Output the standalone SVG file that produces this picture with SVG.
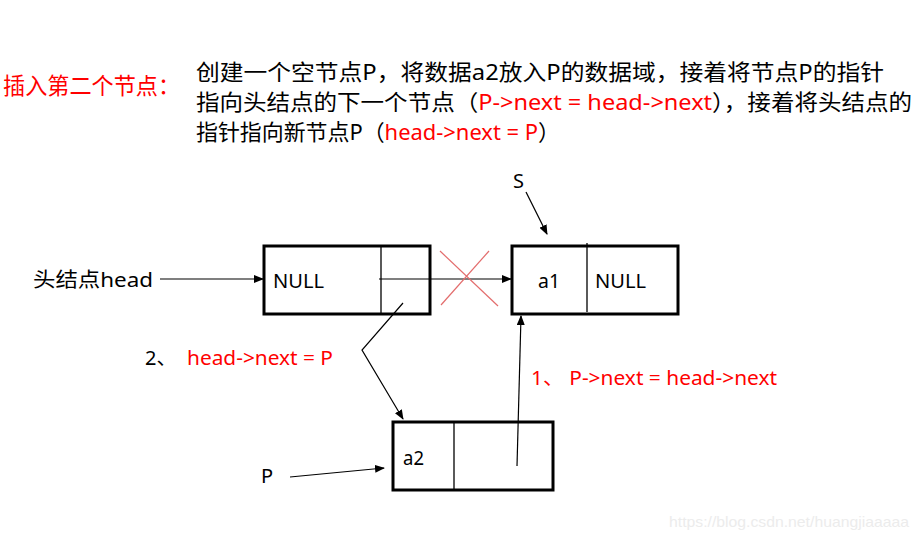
<svg xmlns="http://www.w3.org/2000/svg" width="920" height="541" viewBox="0 0 920 541">
<style>
text{font-family:"Noto Sans","Noto Sans CJK SC",sans-serif;fill:#000}
.red{fill:#ff0000}
.t{font-size:22px}
.h{font-size:23px}
.l{font-size:20px}
.box{fill:#fff;stroke:#000;stroke-width:3}
.div{stroke:#000;stroke-width:1.3}
.conn{stroke:#000;stroke-width:1.2;fill:none;marker-end:url(#ah)}
.x{stroke:#e36c6c;stroke-width:1.2}
.wm{font-family:"Liberation Sans",Arial,sans-serif;font-size:15px;fill:#ececec}
</style>
<defs>
<marker id="ah" markerUnits="userSpaceOnUse" markerWidth="10" markerHeight="8" refX="9" refY="4" orient="auto">
<path d="M0,0 L10,4 L0,8 z" fill="#000"/>
</marker>
</defs>
<rect width="920" height="541" fill="#fff"/>
<g id="title">
<text x="3" y="94" class="h red" textLength="177" lengthAdjust="spacingAndGlyphs">插入第二个节点：</text>
<text x="196" y="80" class="t" textLength="688" lengthAdjust="spacingAndGlyphs">创建一个空节点P，将数据a2放入P的数据域，接着将节点P的指针</text>
<text x="196" y="110" class="t" textLength="716" lengthAdjust="spacingAndGlyphs">指向头结点的下一个节点（<tspan class="red">P-&gt;next = head-&gt;next</tspan>），接着将头结点的</text>
<text x="196" y="140" class="t" textLength="364" lengthAdjust="spacingAndGlyphs">指针指向新节点P（<tspan class="red">head-&gt;next = P</tspan>）</text>
</g>
<g id="head-node">
<rect class="box" x="264" y="246" width="166" height="68"/>
<line class="div" x1="381" y1="246" x2="381" y2="314"/>
<text x="273" y="288" class="l" textLength="51" lengthAdjust="spacingAndGlyphs">NULL</text>
</g>
<g id="a1-node">
<rect class="box" x="512" y="246" width="166" height="68"/>
<line class="div" x1="587" y1="243" x2="587" y2="312"/>
<text x="538" y="288" class="l" textLength="22" lengthAdjust="spacingAndGlyphs">a1</text>
<text x="595" y="288" class="l" textLength="51" lengthAdjust="spacingAndGlyphs">NULL</text>
</g>
<g id="a2-node">
<rect class="box" x="393" y="422" width="160" height="68"/>
<line class="div" x1="454" y1="422" x2="454" y2="490"/>
<text x="403" y="465" class="l" textLength="21" lengthAdjust="spacingAndGlyphs">a2</text>
</g>
<g id="labels">
<text x="33" y="287" class="l" textLength="120" lengthAdjust="spacingAndGlyphs">头结点head</text>
<text x="513" y="188" class="l">S</text>
<text x="261" y="483" class="l">P</text>
<text x="145" y="365" class="l">2、</text>
<text x="187" y="365" class="l red" textLength="146" lengthAdjust="spacingAndGlyphs">head-&gt;next = P</text>
<text x="531" y="385" class="l red" textLength="246" lengthAdjust="spacingAndGlyphs">1、 P-&gt;next = head-&gt;next</text>
</g>
<g id="connectors">
<line class="conn" x1="160" y1="279" x2="263" y2="279"/>
<line class="conn" x1="526" y1="192" x2="547" y2="234"/>
<line class="conn" x1="379" y1="279" x2="511" y2="279"/>
<polyline class="conn" points="403,303 362,350 403,419"/>
<line class="conn" x1="517" y1="466" x2="521" y2="316"/>
<line class="conn" x1="290" y1="477" x2="384" y2="468"/>
<line class="x" x1="440" y1="251" x2="498" y2="306"/>
<line class="x" x1="489" y1="251" x2="441" y2="305"/>
</g>
<text x="669" y="527" class="wm" textLength="240" lengthAdjust="spacingAndGlyphs">https://blog.csdn.net/huangjiaaaaa</text>
</svg>
